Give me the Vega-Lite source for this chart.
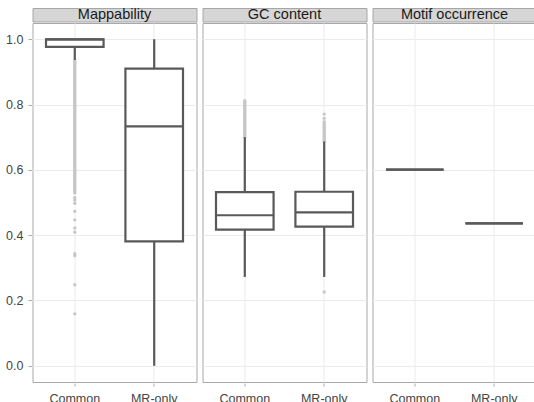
{
  "$schema": "https://vega.github.io/schema/vega-lite/v6.json",
  "padding": {"left": 5.5, "top": 6, "right": 0, "bottom": 0},
  "autosize": {"type": "pad"},
  "config": {
    "font": "Liberation Sans",
    "view": {"stroke": "#A8A8A8", "fill": "white"},
    "axis": {"domain": false, "labelFont": "Liberation Sans", "labelFontSize": 12.5, "labelColor": "#444444", "tickColor": "#AAAAAA", "gridColor": "#EBEBEB", "title": null}
  },
  "spacing": 0,
  "vconcat": [
    {
      "data": {"values": [{"panel": "Mappability"}, {"panel": "GC content"}, {"panel": "Motif occurrence"}]},
      "facet": {"column": {"field": "panel", "type": "nominal", "sort": ["Mappability", "GC content", "Motif occurrence"], "header": null}},
      "spacing": 4,
      "spec": {
        "width": 164,
        "height": 13.5,
        "view": {"fill": "#D6D6D6", "stroke": "#A6A6A6"},
        "mark": {"type": "text", "font": "Liberation Sans", "fontSize": 14.5, "color": "#1A1A1A", "baseline": "middle"},
        "encoding": {"text": {"field": "panel", "type": "nominal"}}
      }
    },
    {
      "data": {"values": [
        {"panel": "Mappability", "group": "Common", "kind": "box", "lower": 0.937, "q1": 0.977, "median": 1.0, "q3": 1.0, "upper": 1.0},
        {"panel": "Mappability", "group": "MR-only", "kind": "box", "lower": 0.0, "q1": 0.381, "median": 0.733, "q3": 0.91, "upper": 1.0},
        {"panel": "GC content", "group": "Common", "kind": "box", "lower": 0.272, "q1": 0.417, "median": 0.461, "q3": 0.532, "upper": 0.7},
        {"panel": "GC content", "group": "MR-only", "kind": "box", "lower": 0.272, "q1": 0.426, "median": 0.47, "q3": 0.533, "upper": 0.687},
        {"panel": "Motif occurrence", "group": "Common", "kind": "box", "lower": 0.601, "q1": 0.601, "median": 0.601, "q3": 0.601, "upper": 0.601},
        {"panel": "Motif occurrence", "group": "MR-only", "kind": "box", "lower": 0.436, "q1": 0.436, "median": 0.436, "q3": 0.436, "upper": 0.436},
        {"panel": "Mappability", "group": "Common", "kind": "dense", "lo": 0.529, "hi": 0.937},
        {"panel": "GC content", "group": "Common", "kind": "dense", "lo": 0.7, "hi": 0.812},
        {"panel": "GC content", "group": "MR-only", "kind": "dense", "lo": 0.687, "hi": 0.748},
        {"panel": "Mappability", "group": "Common", "kind": "outlier", "value": 0.515},
        {"panel": "Mappability", "group": "Common", "kind": "outlier", "value": 0.508},
        {"panel": "Mappability", "group": "Common", "kind": "outlier", "value": 0.498},
        {"panel": "Mappability", "group": "Common", "kind": "outlier", "value": 0.473},
        {"panel": "Mappability", "group": "Common", "kind": "outlier", "value": 0.447},
        {"panel": "Mappability", "group": "Common", "kind": "outlier", "value": 0.422},
        {"panel": "Mappability", "group": "Common", "kind": "outlier", "value": 0.409},
        {"panel": "Mappability", "group": "Common", "kind": "outlier", "value": 0.343},
        {"panel": "Mappability", "group": "Common", "kind": "outlier", "value": 0.337},
        {"panel": "Mappability", "group": "Common", "kind": "outlier", "value": 0.248},
        {"panel": "Mappability", "group": "Common", "kind": "outlier", "value": 0.159},
        {"panel": "GC content", "group": "MR-only", "kind": "outlier", "value": 0.758},
        {"panel": "GC content", "group": "MR-only", "kind": "outlier", "value": 0.771},
        {"panel": "GC content", "group": "MR-only", "kind": "outlier", "value": 0.226}
      ]},
      "facet": {"column": {"field": "panel", "type": "nominal", "sort": ["Mappability", "GC content", "Motif occurrence"], "header": null}},
      "spacing": 4,
      "spec": {
        "width": 164,
        "height": 359,
        "encoding": {
          "x": {"field": "group", "type": "nominal", "scale": {"domain": ["Common", "MR-only"], "paddingInner": 0.275, "paddingOuter": 0.17},
                "axis": {"grid": true, "bandPosition": 0.5, "labelAngle": 0, "tickSize": 3, "labelPadding": 6}}
        },
        "layer": [
          {
            "transform": [{"filter": "datum.kind === 'dense'"}],
            "mark": {"type": "rule", "color": "#C6C6C6", "strokeWidth": 3.3, "strokeCap": "round"},
            "encoding": {
              "y": {"field": "lo", "type": "quantitative", "scale": {"domain": [-0.05, 1.05], "nice": false, "zero": false},
                    "axis": {"values": [0, 0.1, 0.2, 0.3, 0.4, 0.5, 0.6, 0.7, 0.8, 0.9, 1.0],
                             "labelExpr": "round(datum.value*10) % 2 == 1 ? '' : format(datum.value, '.1f')",
                             "tickOpacity": {"condition": {"test": "round(datum.value*10) % 2 == 1", "value": 0}, "value": 1},
                             "gridColor": {"condition": {"test": "round(datum.value*10) % 2 == 1", "value": "#F3F3F3"}, "value": "#EBEBEB"},
                             "tickSize": 3.5, "labelPadding": 5}},
              "y2": {"field": "hi"}
            }
          },
          {
            "transform": [{"filter": "datum.kind === 'outlier'"}],
            "mark": {"type": "circle", "color": "#C6C6C6", "size": 11, "opacity": 1},
            "encoding": {"y": {"field": "value", "type": "quantitative"}}
          },
          {
            "transform": [{"filter": "datum.kind === 'box'"}],
            "mark": {"type": "rule", "color": "#595959", "strokeWidth": 2.2},
            "encoding": {"y": {"field": "lower", "type": "quantitative"}, "y2": {"field": "upper"}}
          },
          {
            "transform": [{"filter": "datum.kind === 'box'"}],
            "mark": {"type": "bar", "fill": "white", "stroke": "#595959", "strokeWidth": 2.2},
            "encoding": {"y": {"field": "q1", "type": "quantitative"}, "y2": {"field": "q3"}}
          },
          {
            "transform": [{"filter": "datum.kind === 'box'"}],
            "mark": {"type": "bar", "fill": null, "stroke": "#595959", "strokeWidth": 2.2},
            "encoding": {"y": {"field": "median", "type": "quantitative"}, "y2": {"field": "median"}}
          }
        ]
      }
    }
  ]
}
